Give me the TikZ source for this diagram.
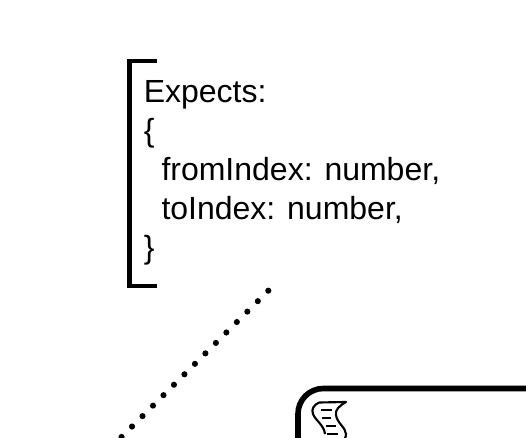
\documentclass[tikz,border=0pt]{standalone}
\usepackage{fontspec}
\setmainfont{Liberation Sans}
\begin{document}
\begin{tikzpicture}[
    x=0.75pt, y=-0.75pt,
    bracket/.style={line width=3.5pt, line cap=butt},
    dotline/.style={line width=4.6pt, line cap=round, dash pattern=on 0pt off 11.1pt},
    frame/.style={line width=4.2pt, rounded corners=19pt},
    schema/.style={anchor=north west, inner sep=0pt, align=left, font=\fontsize{24pt}{29.25pt}\selectfont},
    scrollicon/.style={line width=1.6pt, line join=round}
]
\useasboundingbox (0,0) rectangle (526,438);
\clip (0,0) rectangle (526,438);

% Schema text
\node[schema] (schema) at (143.5,80) {Expects:\\\{\\\hspace*{13.3pt}fromIndex: number,\\\hspace*{13.3pt}toIndex: number,\\\}};

% Bracket
\coordinate (brackettop) at (157,61);
\coordinate (bracketbottom) at (157,286);
\draw[bracket] (brackettop) -- (129.5,61) -- (129.5,286) -- (bracketbottom);

% Dotted connector
\coordinate (dotstart) at (268.3,290.7);
\coordinate (dotend) at (111.3,447.2);
\draw[dotline] (dotstart) -- (dotend);

% Card
\coordinate (cardright) at (560,388.5);
\coordinate (cardleft) at (298,480);
\draw[frame] (cardright) -- (298,388.5) -- (cardleft);

% Scroll icon
\draw[scrollicon] (319,402.5) -- (346,402) .. controls (339,406) and (335,410) .. (336,415) .. controls (337,423) and (346,428) .. (346,434) .. controls (346,438) and (344,440) .. (342,442);
\draw[scrollicon] (319,402.5) .. controls (314,405) and (311,409) .. (313,414) .. controls (315,420) and (324,425) .. (325,434);
\draw[scrollicon] (321,410) -- (332,410);
\draw[scrollicon] (322,418) -- (331,418);
\draw[scrollicon] (326,426) -- (336,426);
\draw[scrollicon] (327,434) -- (338,434);
\end{tikzpicture}
\end{document}
